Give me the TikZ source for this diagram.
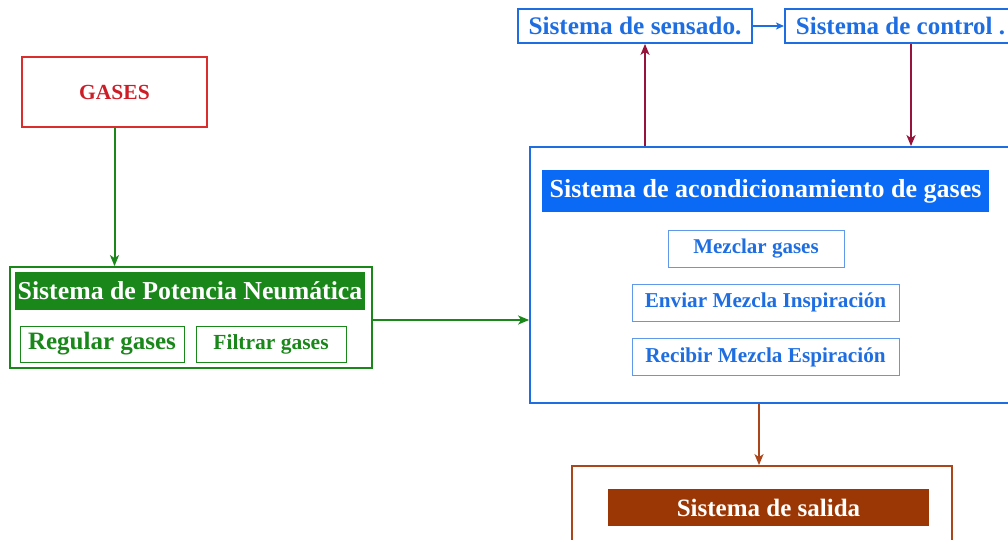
\documentclass[tikz,border=0pt]{standalone}
\usepackage{fontspec}
\setmainfont{Liberation Serif}
\usetikzlibrary{arrows.meta}
\definecolor{cred}{RGB}{220,45,45}
\definecolor{tred}{RGB}{205,30,40}
\definecolor{cgreen}{RGB}{25,135,25}
\definecolor{cblue}{RGB}{30,110,225}
\definecolor{hblue}{RGB}{10,105,245}
\definecolor{cmaroon}{RGB}{150,20,60}
\definecolor{cbrown}{RGB}{170,70,25}
\definecolor{hbrown}{RGB}{155,55,5}
\tikzset{
  box/.style={draw, line width=1.8pt, inner sep=0pt, font=\bfseries},
  thinbox/.style={draw, line width=0.9pt, inner sep=0pt, font=\bfseries},
  hdr/.style={inner sep=0pt, text=white, font=\bfseries},
  arr/.style={line width=2pt, -{Stealth[length=11pt,width=9pt,inset=3pt]}},
}
\begin{document}
\begin{tikzpicture}[x=1pt,y=-1pt]
\useasboundingbox (0,0) rectangle (1008,540);
\clip (0,0) rectangle (1008,540);
% GASES
\node[box, draw=cred, text=tred, minimum width=185pt, minimum height=70pt, font=\bfseries\fontsize{21.5}{24}\selectfont] (gases) at (114.5,92) {GASES};
% Green system
\node[box, draw=cgreen, minimum width=362pt, minimum height=101pt] (pot) at (191,317.5) {};
\node[hdr, fill=cgreen, minimum width=350pt, minimum height=38pt, font=\bfseries\fontsize{25.8}{28}\selectfont] (poth) at (190,291) {Sistema de Potencia Neumática};
\node[thinbox, draw=cgreen, text=cgreen, minimum width=164pt, minimum height=36pt, font=\bfseries\fontsize{25}{28}\selectfont] (reg) at (102,344) {Regular gases};
\node[thinbox, draw=cgreen, text=cgreen, minimum width=150pt, minimum height=36pt, font=\bfseries\fontsize{21.5}{24}\selectfont] (fil) at (271,344) {Filtrar gases};
% Blue conditioning system
\node[box, draw=cblue, minimum width=500pt, minimum height=256pt] (acond) at (780,275) {};
\node[hdr, fill=hblue, minimum width=447pt, minimum height=42pt, font=\bfseries\fontsize{26}{28}\selectfont] (acondh) at (765.5,191) {Sistema de acondicionamiento de gases};
\node[thinbox, draw=cblue!70, text=cblue, minimum width=176pt, minimum height=37pt, font=\bfseries\fontsize{21}{24}\selectfont] (mez) at (756,248.5) {Mezclar gases};
\node[thinbox, draw=cblue!70, text=cblue, minimum width=267pt, minimum height=37pt, font=\bfseries\fontsize{21.2}{24}\selectfont] (env) at (765.5,302.5) {Enviar Mezcla Inspiración};
\node[thinbox, draw=cblue!70, text=cblue, minimum width=267pt, minimum height=37pt, font=\bfseries\fontsize{21.2}{24}\selectfont] (rec) at (765.5,357) {Recibir Mezcla Espiración};
% Top sensing and control
\node[box, draw=cblue, text=cblue, minimum width=234pt, minimum height=34pt, font=\bfseries\fontsize{25.3}{28}\selectfont] (sens) at (635,26) {Sistema de sensado.};
\node[box, draw=cblue, text=cblue, minimum height=34pt, anchor=west, inner xsep=11pt, font=\bfseries\fontsize{25}{28}\selectfont] (ctrl) at (784,26) {Sistema de control .};
% Output system
\node[box, draw=cbrown, minimum width=380pt, minimum height=120pt] (sal) at (762,526) {};
\node[hdr, fill=hbrown, minimum width=321pt, minimum height=37pt, font=\bfseries\fontsize{25}{28}\selectfont] (salh) at (768.5,507.5) {Sistema de salida};
% Connectors
\draw[arr, draw=cgreen, fill=cgreen] (gases.south) -- (pot.north -| gases.south);
\draw[arr, draw=cgreen, fill=cgreen] (pot.east |- 0,320) -- (acond.west |- 0,320);
\draw[arr, draw=cblue, line width=1.6pt, -{Stealth[length=8pt,width=7pt,inset=2pt]}] (sens.east) -- (ctrl.west);
\draw[arr, draw=cmaroon] (acond.north -| 645,0) -- (sens.south -| 645,0);
\draw[arr, draw=cmaroon] (ctrl.south -| 911,0) -- (acond.north -| 911,0);
\draw[arr, draw=cbrown] (acond.south -| 759,0) -- (sal.north -| 759,0);
\end{tikzpicture}
\end{document}
